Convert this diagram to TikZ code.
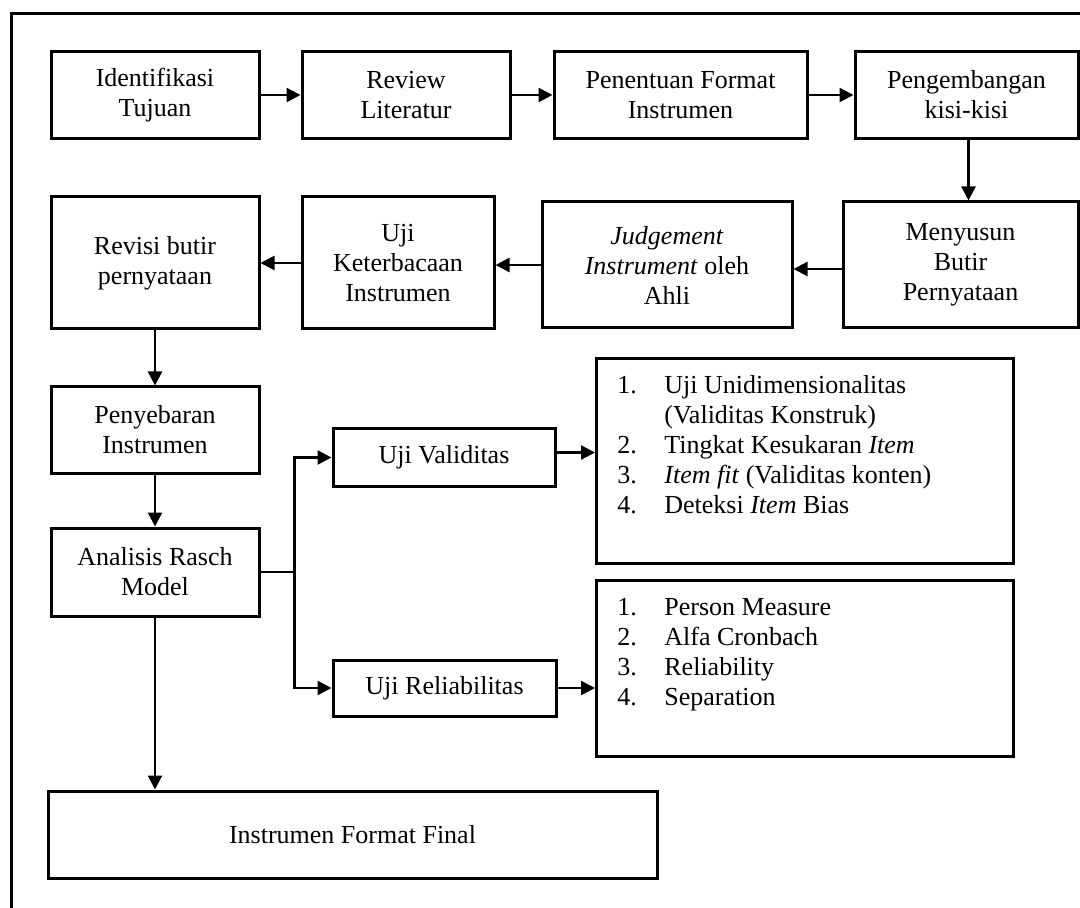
\documentclass[tikz,border=0pt]{standalone}
\usepackage{fontspec}
\setmainfont{Liberation Serif}
\usetikzlibrary{arrows.meta, positioning, calc}

\begin{document}
\begin{tikzpicture}[x=0.5pt, y=-0.5pt,
  blok/.style={draw, line width=1.5pt, align=center, inner sep=2pt, font=\fontsize{13}{15}\selectfont},
  panah/.style={-{Triangle[length=7pt,width=7pt]}, line width=1.2pt}]
  \useasboundingbox (0,0) rectangle (1080,908);
  % bingkai
  \draw[line width=1.5pt] (11,908) -- (11,14) -- (1080,14);

  % baris pertama
  \node[blok, minimum width=104pt, minimum height=43.5pt] (tujuan) at (155,95) {Identifikasi\\Tujuan};
  \node[blok, minimum width=104pt, minimum height=43.5pt] (literatur) at (406,95) {Review\\Literatur};
  \node[blok, minimum width=126.5pt, minimum height=43.5pt] (format) at (680.5,95) {Penentuan Format\\Instrumen};
  \node[blok, minimum width=111.5pt, minimum height=43.5pt] (kisi) at (966.5,95) {Pengembangan\\kisi-kisi};

  % baris kedua
  \node[blok, minimum width=117.5pt, minimum height=63pt] (susun) at (960.5,265) {Menyusun\\Butir\\Pernyataan};
  \node[blok, minimum width=125pt, minimum height=63pt] (ahli) at (667,265) {\textit{Judgement}\\\textit{Instrument} oleh\\Ahli};
  \node[blok, minimum width=96pt, minimum height=66pt] (baca) at (398,263) {Uji\\Keterbacaan\\Instrumen};
  \node[blok, minimum width=104pt, minimum height=66pt] (revisi) at (155,263) {Revisi butir\\pernyataan};

  % kolom kiri
  \node[blok, minimum width=104pt, minimum height=43pt] (sebar) at (155,430) {Penyebaran\\Instrumen};
  \node[blok, minimum width=104pt, minimum height=44pt] (rasch) at (155,572) {Analisis Rasch\\Model};
  \node[blok, minimum width=304.5pt, minimum height=43.5pt] (final) at (352.5,834.5) {Instrumen Format Final};

  % uji
  \node[blok, minimum width=111pt, minimum height=28.5pt] (valid) at (444,457.5) {Uji Validitas};
  \node[blok, minimum width=111.5pt, minimum height=28pt] (reliab) at (444.5,688) {Uji Reliabilitas};

  % daftar
  \node[draw, line width=1.5pt, minimum width=208.5pt, minimum height=102.5pt, anchor=north west] (vallist) at (595,357) {};
  \node[anchor=north west, inner sep=0pt, font=\fontsize{13}{15}\selectfont] (valtext) at ([xshift=11pt,yshift=-7.5pt]vallist.north west) {%
    \begin{tabular}{@{}p{23.5pt}@{}l@{}}
      1. & Uji Unidimensionalitas\\
         & (Validitas Konstruk)\\
      2. & Tingkat Kesukaran \textit{Item}\\
      3. & \textit{Item fit} (Validitas konten)\\
      4. & Deteksi \textit{Item} Bias
    \end{tabular}};
  \node[draw, line width=1.5pt, minimum width=208.5pt, minimum height=88pt, anchor=north west] (rellist) at (595,579) {};
  \node[anchor=north west, inner sep=0pt, font=\fontsize{13}{15}\selectfont] (reltext) at ([xshift=11pt,yshift=-7.5pt]rellist.north west) {%
    \begin{tabular}{@{}p{23.5pt}@{}l@{}}
      1. & Person Measure\\
      2. & Alfa Cronbach\\
      3. & Reliability\\
      4. & Separation
    \end{tabular}};

  % panah
  \draw[panah] (tujuan.east) -- (tujuan.east -| literatur.west);
  \draw[panah] (literatur.east) -- (literatur.east -| format.west);
  \draw[panah] (format.east) -- (format.east -| kisi.west);
  \draw[panah] ([xshift=1pt]kisi.south) -- ([xshift=1pt]kisi.south |- susun.north);
  \draw[panah] ([yshift=-2pt]susun.west) -- ([yshift=-2pt]susun.west -| ahli.east);
  \draw[panah] (ahli.west) -- (ahli.west -| baca.east);
  \draw[panah] (baca.west) -- (baca.west -| revisi.east);
  \draw[panah] (revisi.south) -- (sebar.north);
  \draw[panah] (sebar.south) -- (rasch.north);
  \draw[panah] (rasch.south) -- (rasch.south |- final.north);
  \draw[panah] (rasch.east) -- ++(34,0) |- (valid.west);
  \draw[panah] (rasch.east) -- ++(34,0) |- (reliab.west);
  \draw[panah] ([yshift=2.5pt]valid.east) -- ([yshift=2.5pt]valid.east -| vallist.west);
  \draw[panah] (reliab.east) -- (reliab.east -| rellist.west);
\end{tikzpicture}
\end{document}
